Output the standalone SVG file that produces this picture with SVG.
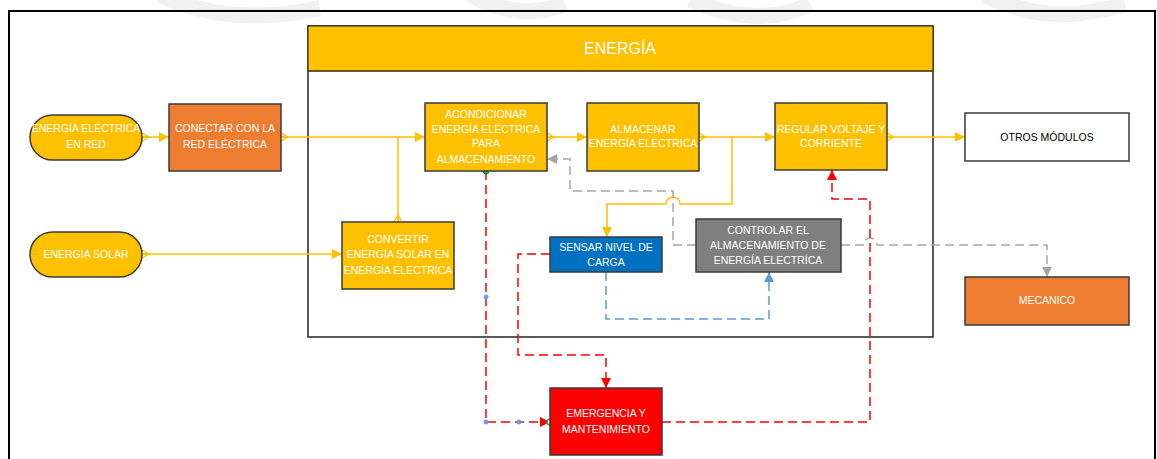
<svg xmlns="http://www.w3.org/2000/svg" width="1157" height="459" viewBox="0 0 1157 459">
<style>
.t{font-family:"Liberation Sans",Arial,sans-serif;font-size:10.5px;fill:#fff;text-anchor:middle}
.tk{font-family:"Liberation Sans",Arial,sans-serif;font-size:10.5px;fill:#000;text-anchor:middle}
.nb{stroke:#3a3a3a;stroke-width:1.5}
.y{fill:none;stroke:#FFC000;stroke-width:1.5}
.gd{fill:none;stroke:#A6A6A6;stroke-width:1.5;stroke-dasharray:9 5}
.rd{fill:none;stroke:#FF0000;stroke-width:1.5;stroke-dasharray:9 5}
.bd{fill:none;stroke:#5B9BD5;stroke-width:1.5;stroke-dasharray:9 5}
</style>
<defs>
<marker id="ay" markerUnits="userSpaceOnUse" markerWidth="12" markerHeight="12" refX="10" refY="5" orient="auto"><path d="M0,0 L10,5 L0,10 z" fill="#FFC000"/></marker>
<marker id="sy" markerUnits="userSpaceOnUse" markerWidth="12" markerHeight="12" refX="1" refY="5" orient="auto"><path d="M1,1 L8,5 L1,9 M1,5 L8,5" fill="none" stroke="#FFC000" stroke-width="1.3"/></marker>
<marker id="ag" markerUnits="userSpaceOnUse" markerWidth="12" markerHeight="12" refX="10" refY="5" orient="auto"><path d="M0,0 L10,5 L0,10 z" fill="#A6A6A6"/></marker>
<marker id="ar" markerUnits="userSpaceOnUse" markerWidth="12" markerHeight="12" refX="10" refY="5" orient="auto"><path d="M0,0 L10,5 L0,10 z" fill="#FF0000"/></marker>
<marker id="ab" markerUnits="userSpaceOnUse" markerWidth="12" markerHeight="12" refX="10" refY="5" orient="auto"><path d="M0,0 L10,5 L0,10 z" fill="#5B9BD5"/></marker>
</defs>
<rect width="1157" height="459" fill="#fff"/>
<g id="watermark" fill="none" stroke="#f1f1f1" stroke-width="16">
<path d="M160,-5 Q230,28 320,8"/>
<path d="M470,-5 Q520,22 565,4"/>
<path d="M690,0 Q760,30 810,4"/>
<path d="M985,-5 Q1050,28 1125,4"/>
</g>
<rect id="frame" x="9" y="11" width="1146" height="460" fill="none" stroke="#000" stroke-width="2"/>
<g id="energia">
<rect x="308" y="26" width="625" height="311" fill="#fff" stroke="#222" stroke-width="1.5"/>
<rect x="308" y="26" width="625" height="45" fill="#FFC000" stroke="#222" stroke-width="1"/>
<line x1="308" y1="71" x2="933" y2="71" stroke="#5a4a10" stroke-width="1.5"/>
<text x="620" y="54" class="t" style="font-size:16px">ENERGÍA</text>
</g>
<g id="connectors">
<path class="y" d="M142,137 L169,137" marker-start="url(#sy)" marker-end="url(#ay)"/>
<path class="y" d="M281,137 L425,137" marker-start="url(#sy)" marker-end="url(#ay)"/>
<path class="y" d="M398,222 L398,137" marker-start="url(#sy)"/>
<path class="y" d="M142,254 L342,254" marker-start="url(#sy)" marker-end="url(#ay)"/>
<path class="y" d="M547,137 L587,137" marker-start="url(#sy)" marker-end="url(#ay)"/>
<path class="y" d="M699,137 L775,137" marker-start="url(#sy)" marker-end="url(#ay)"/>
<path class="y" d="M732,137 L732,204 L680,204 A7,7 0 0 0 666,204 L607,204 L607,237" marker-end="url(#ay)"/>
<path class="y" d="M887,137 L965,137" marker-start="url(#sy)" marker-end="url(#ay)"/>
<path class="gd" d="M696,245 L673,245 L673,191 L570,191 L570,159 L547,159" marker-end="url(#ag)"/>
<path class="gd" d="M841,245 L863,245 A7,7 0 0 1 877,245 L1047,245 L1047,277" marker-end="url(#ag)"/>
<path class="bd" d="M606,272 L606,319 L769,319 L769,272" marker-end="url(#ab)"/>
<path class="rd" d="M486,171 L486,422 L550,422" marker-end="url(#ar)"/>
<path class="rd" d="M550,254 L518,254 L518,355 L606,355 L606,388" marker-end="url(#ar)"/>
<path class="rd" d="M662,422 L870,422 L870,199 L832,199 L832,170" marker-end="url(#ar)"/>
<circle cx="486" cy="297" r="2.5" fill="#6D9EEB"/>
<circle cx="486" cy="422" r="2.5" fill="#6D9EEB"/>
<circle cx="519" cy="422" r="2.5" fill="#6D9EEB"/>
<circle cx="486" cy="171" r="3" fill="#22B14C" stroke="#0a6a1a" stroke-width="0.8"/>
<circle cx="550" cy="422" r="3" fill="#fff" stroke="#22B14C" stroke-width="1.5"/>
</g>
<g id="n_red">
<rect x="30" y="115" width="112" height="45" rx="22.5" fill="#FFC000" class="nb"/>
<text x="86" y="132" class="t">ENERGÍA ELÉCTRICA</text>
<text x="86" y="148" class="t">EN RED</text>
</g>
<g id="n_conectar">
<rect x="169" y="104" width="112" height="67" fill="#ED7D31" class="nb"/>
<text x="225" y="132" class="t">CONECTAR CON LA</text>
<text x="225" y="148" class="t">RED ELÉCTRICA</text>
</g>
<g id="n_solar">
<rect x="30" y="232" width="112" height="45" rx="22.5" fill="#FFC000" class="nb"/>
<text x="86" y="258" class="t">ENERGÍA SOLAR</text>
</g>
<g id="n_convertir">
<rect x="342" y="222" width="112" height="67" fill="#FFC000" class="nb"/>
<text x="398" y="243" class="t">CONVERTIR</text>
<text x="398" y="258" class="t">ENERGÍA SOLAR EN</text>
<text x="398" y="274" class="t">ENERGÍA ELECTRÍCA</text>
</g>
<g id="n_acondicionar">
<rect x="425" y="103" width="122" height="68" fill="#FFC000" class="nb"/>
<text x="486" y="118" class="t">ACONDICIONAR</text>
<text x="486" y="133" class="t">ENERGÍA ELÉCTRICA</text>
<text x="486" y="147" class="t">PARA</text>
<text x="486" y="163" class="t">ALMACENAMIENTO</text>
</g>
<g id="n_almacenar">
<rect x="587" y="103" width="112" height="68" fill="#FFC000" class="nb"/>
<text x="643" y="133" class="t">ALMACENAR</text>
<text x="643" y="147" class="t">ENERGÍA ELÉCTRICA</text>
</g>
<g id="n_regular">
<rect x="775" y="103" width="112" height="67" fill="#FFC000" class="nb"/>
<text x="831" y="133" class="t">REGULAR VOLTAJE Y</text>
<text x="831" y="147" class="t">CORRIENTE</text>
</g>
<g id="n_otros">
<rect x="965" y="113" width="164" height="48" fill="#fff" class="nb"/>
<text x="1047" y="141" class="tk">OTROS MÓDULOS</text>
</g>
<g id="n_sensar">
<rect x="550" y="237" width="112" height="35" fill="#0070C0" class="nb"/>
<text x="606" y="251" class="t">SENSAR NIVEL DE</text>
<text x="606" y="266" class="t">CARGA</text>
</g>
<g id="n_controlar">
<rect x="696" y="219" width="145" height="53" fill="#7F7F7F" class="nb"/>
<text x="768" y="234" class="t">CONTROLAR EL</text>
<text x="768" y="249" class="t">ALMACENAMIENTO DE</text>
<text x="768" y="264" class="t">ENERGÍA ELECTRÍCA</text>
</g>
<g id="n_mecanico">
<rect x="965" y="277" width="164" height="48" fill="#ED7D31" class="nb"/>
<text x="1047" y="304" class="t">MECANICO</text>
</g>
<g id="n_emergencia">
<rect x="550" y="388" width="112" height="67" fill="#FF0000" class="nb"/>
<text x="606" y="417" class="t">EMERGENCIA Y</text>
<text x="606" y="433" class="t">MANTENIMIENTO</text>
</g>
</svg>
